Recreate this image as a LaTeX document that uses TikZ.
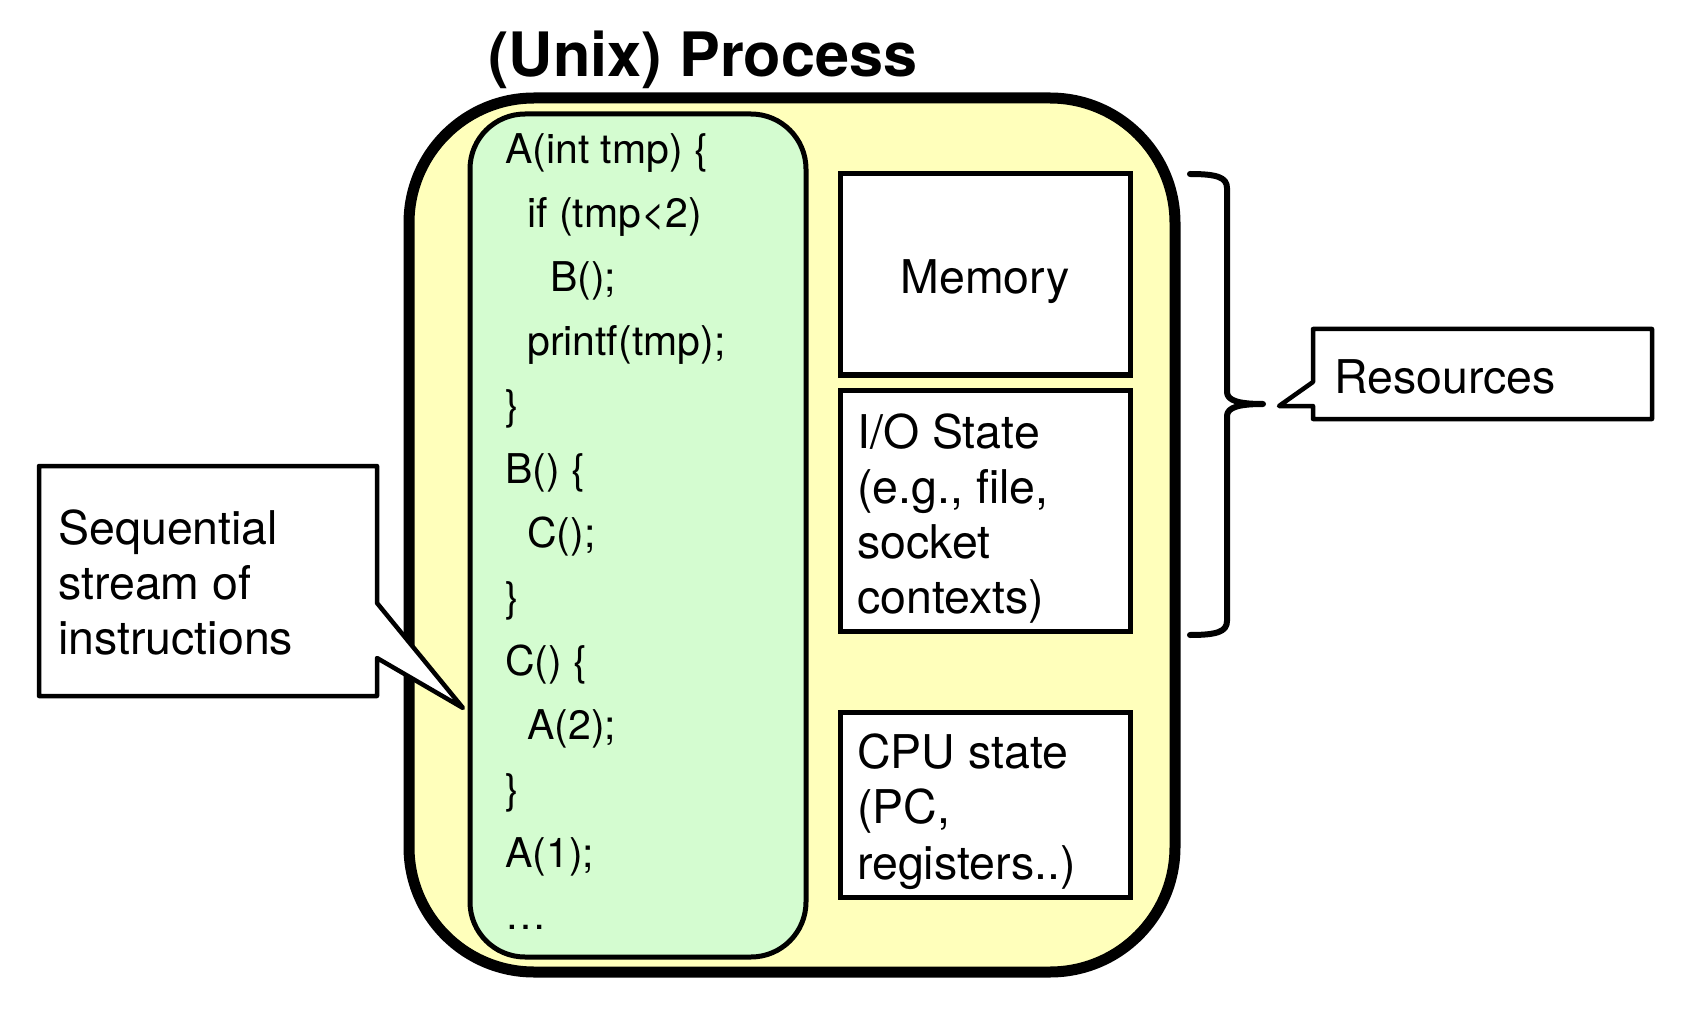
\documentclass[tikz,border=0pt]{standalone}
\usepackage{fontspec}
\setmainfont{TeX Gyre Heros}
\definecolor{procyellow}{RGB}{255,255,187}
\definecolor{codegreen}{RGB}{212,252,208}
\begin{document}
\begin{tikzpicture}[x=1pt,y=-1pt,
  txt/.style={inner sep=0pt,anchor=base west,font=\fontsize{46.5}{55}\selectfont},
  code/.style={inner sep=0pt,anchor=base west,font=\fontsize{41}{48}\selectfont},
  procbox/.style={draw=black,line width=11pt,fill=procyellow,rounded corners=125pt,inner sep=0pt},
  codebox/.style={draw=black,line width=5pt,fill=codegreen,rounded corners=55pt,inner sep=0pt},
  resbox/.style={draw=black,line width=5pt,fill=white,inner sep=0pt},
  callout/.style={draw=black,line width=4.5pt,fill=white,line join=round},
  bracestyle/.style={draw=black,line width=6pt,line cap=round,line join=round}
]
\useasboundingbox (0,0) rectangle (1698,1016);

% title
\node[inner sep=0pt,anchor=base,font=\fontsize{61.2}{70}\selectfont\bfseries] (title) at (703,77) {(Unix) Process};

% process box
\node[procbox,minimum width=766pt,minimum height=874pt] (proc) at (792,535) {};

% code box
\node[codebox,minimum width=336pt,minimum height=843pt] (codeb) at (638,535.5) {};

% code lines
\node[code] (c1)  at (505,163.5) {A(int tmp) \{};
\node[code] (c2)  at (527,227.5) {if (tmp<2)};
\node[code] (c3)  at (550,291.5) {B();};
\node[code] (c4)  at (527,355.5) {printf(tmp);};
\node[code] (c5)  at (505,419.5) {\}};
\node[code] (c6)  at (505,483.5) {B() \{};
\node[code] (c7)  at (527,547.5) {C();};
\node[code] (c8)  at (505,611.5) {\}};
\node[code] (c9)  at (505,675.5) {C() \{};
\node[code] (c10) at (527,739.5) {A(2);};
\node[code] (c11) at (505,803.5) {\}};
\node[code] (c12) at (505,867.5) {A(1);};
\node[code] (c13) at (505,929) {…};

% resource boxes
\node[resbox,minimum width=290pt,minimum height=201pt] (mem) at (985,274.5) {};
\node[txt,anchor=base] (memt) at (985,294) {Memory};

\node[resbox,minimum width=290pt,minimum height=241pt] (io) at (985,510.5) {};
\node[txt] (io1) at (857,448) {I/O State};
\node[txt] (io2) at (857,503) {(e.g., file,};
\node[txt] (io3) at (857,558) {socket};
\node[txt] (io4) at (857,613) {contexts)};

\node[resbox,minimum width=290pt,minimum height=185pt] (cpu) at (985,804.5) {};
\node[txt] (cpu1) at (857,768) {CPU state};
\node[txt] (cpu2) at (857,823.5) {(PC,};
\node[txt] (cpu3) at (857,879) {registers..)};

% brace
\coordinate (btop) at (1190,174);
\coordinate (bbot) at (1190,635);
\coordinate (btip) at (1263,404);
\draw[bracestyle] (btop) .. controls (1216,174) and (1227,177) .. (1227,188)
  -- (1227,392) .. controls (1227,401) and (1240,404) .. (btip)
  .. controls (1240,404) and (1227,407) .. (1227,416)
  -- (1227,621) .. controls (1227,632) and (1216,635) .. (bbot);

% left callout
\coordinate (ltip) at (463,708);
\draw[callout] (39,466) -- (377,466) -- (377,603) -- (ltip) -- (377,658) -- (377,696) -- (39,696) -- cycle;
\node[txt] (seq1) at (58,544) {Sequential};
\node[txt] (seq2) at (58,599) {stream of};
\node[txt] (seq3) at (58,654) {instructions};

% right callout
\coordinate (rtip) at (1279,406);
\draw[callout] (1313,329) -- (1652,329) -- (1652,419) -- (1313,419) -- (1313,406) -- (rtip) -- (1313,382) -- cycle;
\node[txt] (res) at (1334,393) {Resources};
\end{tikzpicture}
\end{document}
